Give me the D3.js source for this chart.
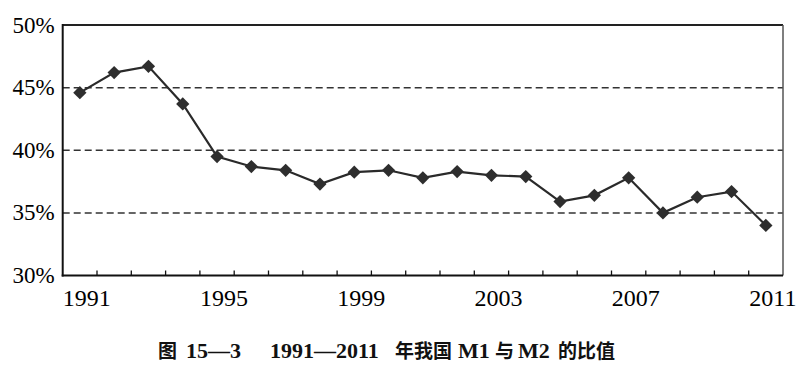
<!DOCTYPE html>
<html><head><meta charset="utf-8">
<script src="https://cdn.jsdelivr.net/npm/d3@7"></script>
<style>html,body{margin:0;padding:0;background:#fff;}svg{display:block;}
.serif{font-family:"Liberation Serif","Times New Roman",Times,serif;}
.ttl{font-family:"Liberation Serif","Noto Sans CJK SC",serif;font-weight:bold;}
.cjk{font-family:"Noto Sans CJK SC",sans-serif;font-weight:bold;}
</style>
</head><body>
<script>
const years = d3.range(1991, 2012).map(String);
const ratio = [44.6, 46.2, 46.7, 43.7, 39.5, 38.7, 38.4, 37.3, 38.25, 38.4, 37.8, 38.3, 38.0, 37.9, 35.9, 36.4, 37.8, 35.0, 36.25, 36.7, 34.0];
const yTicks = [30, 35, 40, 45, 50];
const gridTicks = [35, 40, 45];
const xLabels = ["1991", "1995", "1999", "2003", "2007", "2011"];
const titleParts = [
  {t: "图", x: 158, cjk: true},
  {t: "15—3", x: 186},
  {t: "1991—2011", x: 270},
  {t: "年我国", x: 395, cjk: true},
  {t: "M1", x: 458},
  {t: "与", x: 495, cjk: true},
  {t: "M2", x: 518},
  {t: "的比值", x: 558, cjk: true}
];

const W = 802, H = 372;
const L = 62.7, R = 783, T = 25, B = 275.5;
const svg = d3.select("body").append("svg").attr("width", W).attr("height", H);

const x = d3.scaleBand().domain(years).range([L, R]).padding(0);
const y = d3.scaleLinear().domain([30, 50]).range([B, T]);

// dashed grid
svg.append("g").selectAll("line").data(gridTicks).join("line")
  .attr("x1", L).attr("x2", R).attr("y1", d => y(d)).attr("y2", d => y(d))
  .attr("stroke", "#333").attr("stroke-width", 1.5).attr("stroke-dasharray", "7,4");

// frame top & right
svg.append("line").attr("x1", L).attr("x2", R).attr("y1", T).attr("y2", T).attr("stroke", "#222").attr("stroke-width", 2);
svg.append("line").attr("x1", R).attr("x2", R).attr("y1", T).attr("y2", B).attr("stroke", "#555").attr("stroke-width", 1.5);

// bottom axis
const xb = svg.append("g").attr("transform", `translate(0,${B})`);
xb.append("line").attr("x1", L - 1).attr("x2", R).attr("stroke", "#111").attr("stroke-width", 2);
const boundaries = years.slice(1).map(d => x(d));
xb.selectAll("line.tk").data(boundaries).join("line").attr("class", "tk")
  .attr("x1", d => d).attr("x2", d => d).attr("y1", 0).attr("y2", -5)
  .attr("stroke", "#111").attr("stroke-width", 1.3);
xb.selectAll("text").data(xLabels).join("text")
  .attr("class", "serif")
  .attr("x", d => x(d) + x.bandwidth() / 2 + 7).attr("y", 30)
  .attr("text-anchor", "middle").style("font-size", "24px").attr("fill", "#000")
  .text(d => d);

// left axis
const yl = svg.append("g").attr("transform", `translate(${L},0)`);
yl.append("line").attr("y1", T - 1).attr("y2", B + 1).attr("stroke", "#111").attr("stroke-width", 2);
yl.selectAll("text").data(yTicks).join("text")
  .attr("class", "serif")
  .attr("x", -8).attr("y", d => y(d)).attr("dy", "0.33em")
  .attr("text-anchor", "end").style("font-size", "23px").attr("fill", "#000")
  .text(d => d + "%");

// line
const cx = d => x(d) + x.bandwidth() / 2;
const line = d3.line().x((d, i) => cx(years[i])).y(d => y(d));
svg.append("path").datum(ratio).attr("d", line).attr("fill", "none")
  .attr("stroke", "#2a2a2a").attr("stroke-width", 2.2);

// diamonds
const sym = d3.symbol().type(d3.symbolSquare).size(88);
svg.append("g").selectAll("path").data(ratio).join("path")
  .attr("d", sym)
  .attr("transform", (d, i) => `translate(${cx(years[i])},${y(d)}) rotate(45)`)
  .attr("fill", "#2e2e2e");

// title
svg.append("g").selectAll("text").data(titleParts).join("text")
  .attr("class", d => d.cjk ? "cjk" : "ttl")
  .attr("x", d => d.x).attr("y", 358)
  .style("font-size", d => d.cjk ? "19px" : "22px").attr("fill", "#111")
  .text(d => d.t);
</script>
</body></html>
